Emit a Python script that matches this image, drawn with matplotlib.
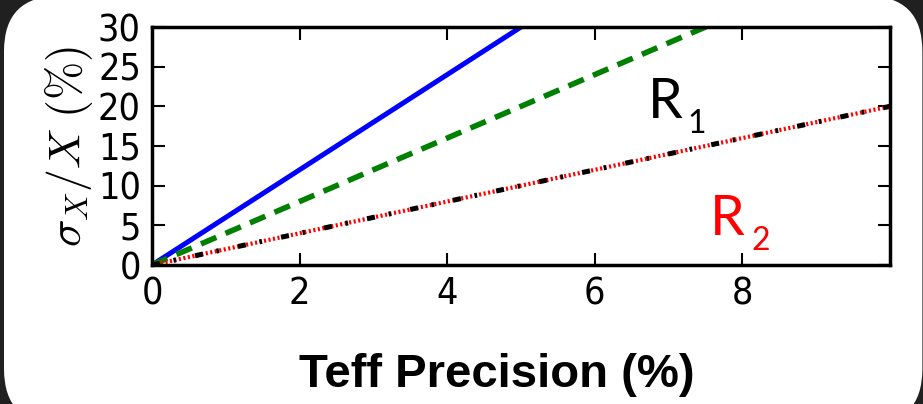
import matplotlib
matplotlib.use('Agg')
import matplotlib.pyplot as plt
from matplotlib.patches import FancyBboxPatch

# Teff precision (%) and resulting fractional error for each quantity
teff_prec = [0, 10]
err_blue = [0, 60]
err_green = [0, 40]
err_r1 = [0, 20]
err_r2 = [0, 20]

x_ticks = [0, 2, 4, 6, 8]
y_ticks = [0, 5, 10, 15, 20, 25, 30]

plt.rcParams['mathtext.fontset'] = 'cm'
plt.rcParams['font.family'] = 'DejaVu Sans'

fig = plt.figure(figsize=(9.23, 4.04), dpi=100)
fig.patch.set_facecolor('#202020')

# white rounded panel behind everything
panel = FancyBboxPatch((4 / 923, -0.05), 0.995, 1.06,
                       boxstyle='round,pad=0,rounding_size=0.06',
                       transform=fig.transFigure, facecolor='white',
                       edgecolor='none', zorder=-10,
                       mutation_aspect=923 / 404)
fig.patches.append(panel)

ax = fig.add_axes([152 / 923, 1 - 265 / 404, 738 / 923, 238 / 404])
ax.set_facecolor('white')

ax.plot(teff_prec, err_blue, color='#0000ff', lw=3.6, solid_capstyle='butt')
ax.plot(teff_prec, err_green, color='#008000', lw=4, dashes=(3.0, 1.8))
ax.plot(teff_prec, err_r2, color='#ff0000', lw=3, dashes=(0.5, 0.6))
ax.plot(teff_prec, err_r1, color='black', lw=3.6, dashes=(1.6, 2.8, 0.5, 3.9))

ax.set_xlim(0, 10)
ax.set_ylim(0, 30)
ax.set_xticks(x_ticks)
ax.set_yticks(y_ticks)
ax.tick_params(direction='in', length=9, width=1.5, top=True, right=True,
               labelsize=27, pad=8)
for lbl in ax.get_xticklabels() + ax.get_yticklabels():
    lbl.set_fontstretch('condensed')
for s in ax.spines.values():
    s.set_linewidth(2.5)

ax.set_ylabel(r'$\sigma_X/X\ (\%)$', fontsize=33, labelpad=2)

fig.text(497 / 923, 1 - 387 / 404, 'Teff Precision (%)', ha='center',
         va='baseline', fontsize=34, fontweight='bold',
         family='Liberation Sans')

# curve labels
ax.text(6.72, 18.53, 'R', fontsize=40, family='Lato', color='black',
        va='baseline', ha='left')
ax.text(7.25, 16.64, '1', fontsize=23, family='Lato', color='black',
        va='baseline', ha='left')
ax.text(7.56, 3.78, 'R', fontsize=40, family='Lato', color='red',
        va='baseline', ha='left')
ax.text(8.12, 1.89, '2', fontsize=23, family='Lato', color='red',
        va='baseline', ha='left')

fig.savefig('out.png', dpi=100, facecolor=fig.get_facecolor())
